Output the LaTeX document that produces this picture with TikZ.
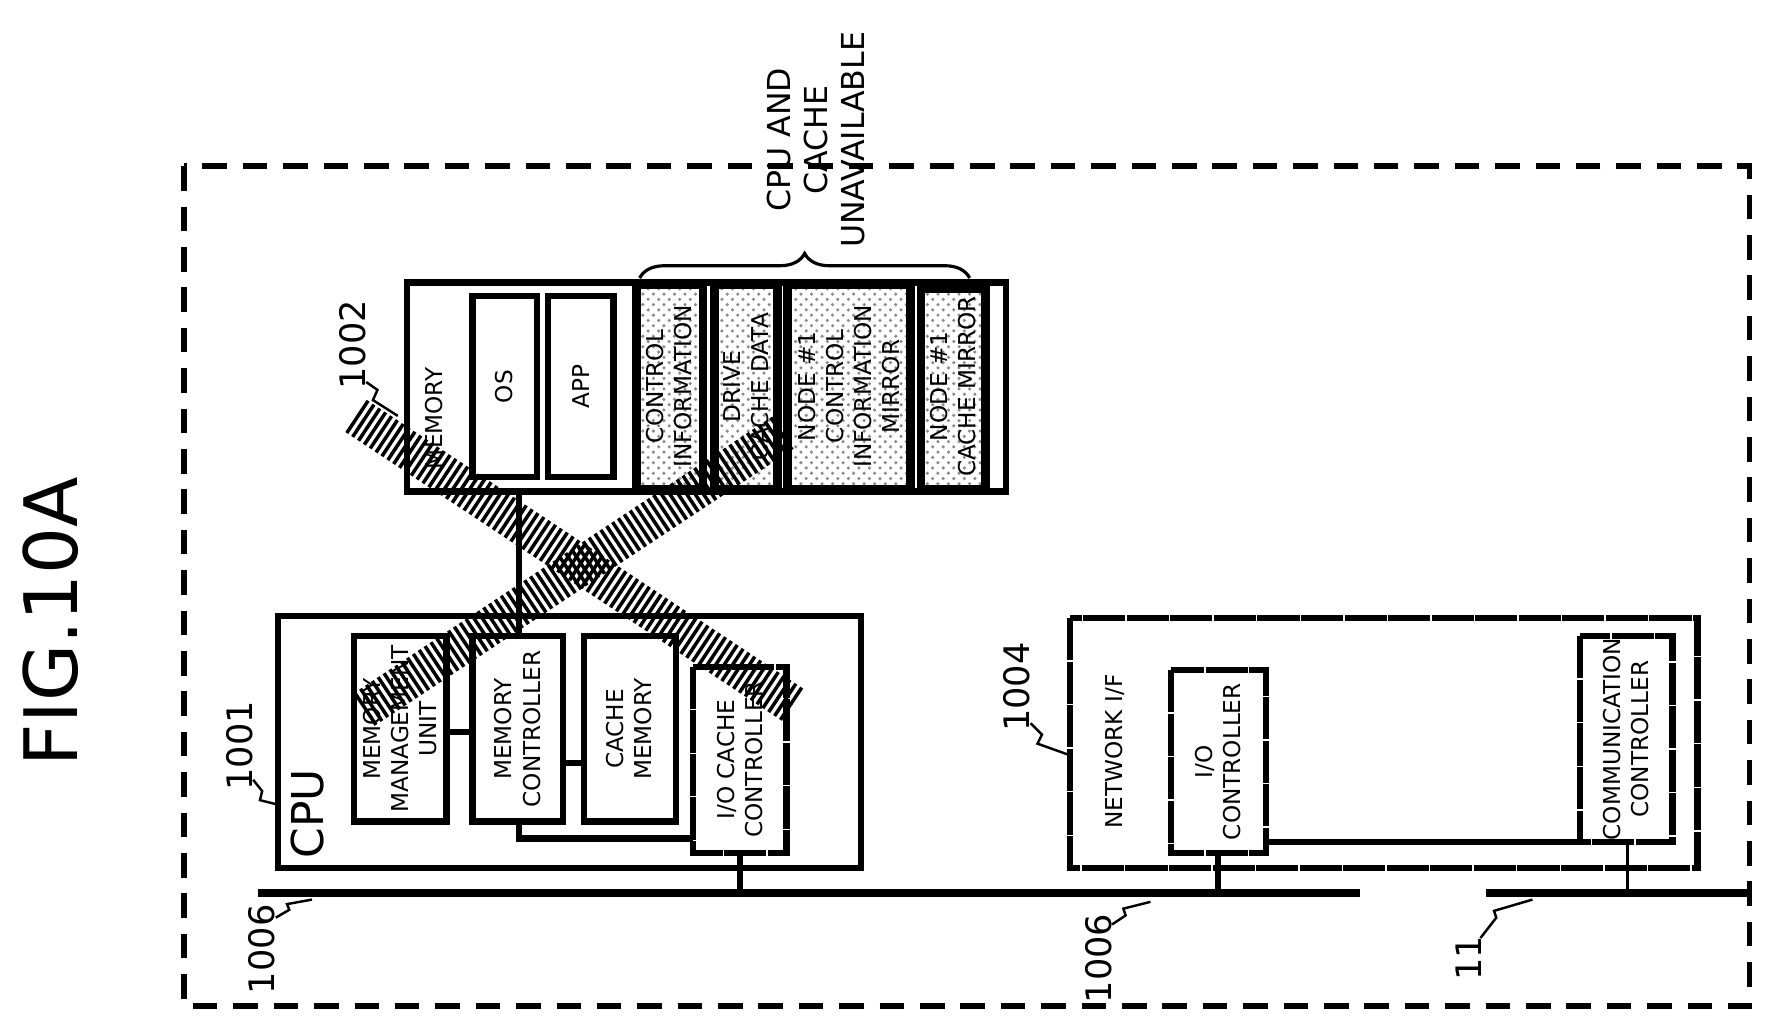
\documentclass[tikz,border=0pt]{standalone}
\usepackage{fontspec}
\setmainfont{DejaVu Sans}
\usetikzlibrary{decorations.pathreplacing,patterns}
\tikzset{
  box/.style={draw=black, line width=1.8pt, fill=white},
  shade/.style={draw=black, line width=2.5pt, pattern=crosshatch dots, pattern color=black!45},
  txt/.style={rotate=90, align=center, font=\fontsize{6.6}{8}\selectfont, inner sep=0pt},
  num/.style={rotate=90, font=\fontsize{10}{11}\selectfont, inner sep=0pt},
  lead/.style={line width=0.7pt},
  bus/.style={line width=2.3pt},
  dotbox/.style={box, dash pattern=on 12pt off 0.4pt},
  cross/.style={line width=11pt, dash pattern=on 1pt off 1pt}
}
\begin{document}
\begin{tikzpicture}[x=0.0113cm,y=-0.0113cm]
% outer frame
\draw[line width=1.6pt, dash pattern=on 7pt off 4.5pt] (163,147) rectangle (1548,890);
\node (title) [rotate=90, font=\fontsize{21}{23}\selectfont] at (45,550) {FIG.10A};

% memory
\draw[box] (360,250) rectangle (890,435);
\node (mem) [txt] at (384,370) {MEMORY};
\draw[box] (418,262) rectangle (475,422);
\node (os) [txt] at (446,342) {OS};
\draw[box] (485,262) rectangle (543,422);
\node (app) [txt] at (514,342) {APP};
\draw[shade] (563,252) rectangle (622,433);
\node (ctl) [txt] at (592,342) {CONTROL\\INFORMATION};
\draw[shade] (632,252) rectangle (688,433);
\node (drv) [txt] at (660,342) {DRIVE\\CACHE DATA};
\draw[shade] (697,252) rectangle (806,433);
\node (mir) [txt] at (751,342) {NODE \#1\\CONTROL\\INFORMATION\\MIRROR};
\draw[shade] (815,255) rectangle (872,433);
\node (cmir) [txt] at (843,342) {NODE \#1\\CACHE MIRROR};
\draw[decorate, decoration={brace, amplitude=7pt}, line width=0.9pt] (566,246) -- (858,246);
\node (unav) [txt, anchor=west, font=\fontsize{9}{10.5}\selectfont] at (722,220) {CPU AND\\CACHE\\UNAVAILABLE};

% cpu
\draw[box] (246,545) rectangle (762,768);
\node (cpu) [rotate=90, font=\fontsize{12.5}{14}\selectfont] at (272,720) {CPU};
\draw[box] (313,563) rectangle (395,727);
\node (mmu) [txt] at (354,645) {MEMORY\\MANAGEMENT\\UNIT};
\draw[box] (418,563) rectangle (498,727);
\node (mc) [txt] at (458,645) {MEMORY\\CONTROLLER};
\draw[box] (517,563) rectangle (598,727);
\node (cm) [txt] at (557,645) {CACHE\\MEMORY};
\draw[dotbox] (613,590) rectangle (696,755);
\node (ioc) [txt] at (655,672) {I/O CACHE\\CONTROLLER};
\draw[line width=1.8pt] (395,648) -- (418,648);
\draw[line width=1.8pt] (498,675) -- (517,675);
\draw[line width=1.8pt] (459,435) -- (459,563);
\draw[line width=1.8pt] (459,727) -- (459,742) -- (613,742);

% network i/f
\draw[dotbox] (947,547) rectangle (1502,768);
\node (nif) [txt] at (987,665) {NETWORK I/F};
\draw[dotbox] (1036,593) rectangle (1120,755);
\node (nio) [txt] at (1078,674) {I/O\\CONTROLLER};
\draw[dotbox] (1398,563) rectangle (1480,745);
\node (comm) [txt] at (1439,654) {COMMUNICATION\\CONTROLLER};
\draw[line width=1.8pt] (1120,745) -- (1398,745);

% buses
\draw[bus] (228,790) -- (1203,790);
\draw[bus] (1315,790) -- (1548,790);
\draw[line width=1.8pt] (655,755) -- (655,790);
\draw[line width=1.8pt] (1078,755) -- (1078,790);
\draw[line width=0.9pt] (1440,745) -- (1440,790);

% reference numerals
\node (n1001) [num] at (212,660) {1001};
\draw[lead] (224,690) -- (232,700) -- (230,708) -- (246,712);
\node (n1002) [num] at (312,305) {1002};
\draw[lead] (324,338) -- (334,345) -- (330,354) -- (352,368);
\node (n1004) [num] at (900,608) {1004};
\draw[lead] (912,640) -- (922,650) -- (918,658) -- (946,668);
\node (n1006a) [num] at (232,840) {1006};
\draw[lead] (244,812) -- (256,805) -- (254,800) -- (276,796);
\node (n1006b) [num] at (972,848) {1006};
\draw[lead] (984,818) -- (996,810) -- (994,804) -- (1018,798);
\node (n11) [num] at (1300,848) {11};
\draw[lead] (1310,830) -- (1324,812) -- (1322,806) -- (1356,796);

% unavailable cross
\draw[cross] (315,368) -- (702,624);
\draw[cross] (322,628) -- (694,382);

\pgfresetboundingbox
\path[use as bounding box] (0,0) rectangle (1568,913);
\end{tikzpicture}
\end{document}
